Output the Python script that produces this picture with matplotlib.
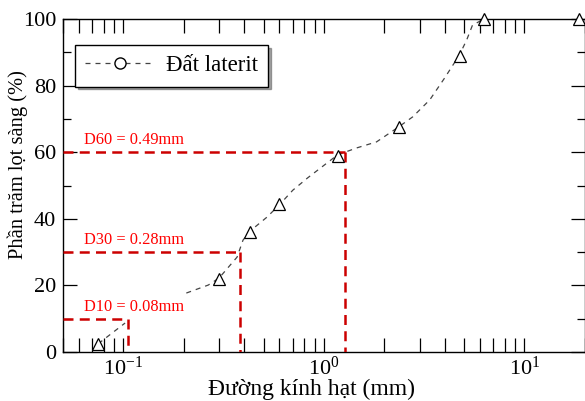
import numpy as np
import matplotlib.pyplot as plt
from matplotlib.lines import Line2D
from matplotlib.ticker import MultipleLocator

plt.rcParams['font.family'] = ['Liberation Serif', 'DejaVu Serif']
plt.rcParams['mathtext.fontset'] = 'custom'
plt.rcParams['mathtext.rm'] = 'Liberation Serif'

# sieve test points
size_mm = [0.075, 0.30, 0.43, 0.60, 1.17, 2.36, 4.75, 6.3, 18.8]
passing = [2.5, 22, 36, 44.5, 59, 67.5, 89, 100, 100]

# fitted curve (two pieces, gap between them)
curve1_x = [0.075, 0.102]
curve1_y = [2.5, 8.7]
curve2_x = [0.206, 0.265, 0.30, 0.369, 0.395, 0.428, 0.52, 0.604, 0.70, 0.83,
            1.17, 1.46, 1.83, 2.36, 2.77, 3.37, 4.0, 4.74, 5.15, 5.51, 6.3]
curve2_y = [17.7, 20.1, 22.2, 28.5, 33.6, 36.3, 40.5, 44.4, 48.6, 52.3,
            59.2, 61.3, 63.1, 67.6, 70.6, 75.7, 82.3, 89.2, 93.7, 98.2, 100]

# D-values: (label, percent, diameter where the guide line is drawn)
d_labels = ["D10 = 0.08mm", "D30 = 0.28mm", "D60 = 0.49mm"]
d_percent = [10, 30, 60]
d_x = [0.106, 0.38, 1.27]

fig = plt.figure(figsize=(5.85, 4.01), dpi=100)
ax = fig.add_axes([0.1077, 0.1222, 0.892, 0.8304])

ax.plot(curve1_x, curve1_y, ls=(0, (4, 4)), color='#444444', lw=0.9)
ax.plot(curve2_x, curve2_y, ls=(0, (4, 4)), color='#444444', lw=0.9)
ax.plot(size_mm, passing, ls='none', marker='^', markersize=9,
        markerfacecolor='white', markeredgecolor='black', markeredgewidth=0.9,
        zorder=5, clip_on=False)

for lab, p, dx in zip(d_labels, d_percent, d_x):
    ax.plot([0.05, dx], [p, p], ls=(0, (4, 2.5)), color='#cc0000', lw=1.8, zorder=3)
    ax.plot([dx, dx], [p, 0], ls=(0, (4, 2.5)), color='#cc0000', lw=1.8, zorder=3)
    ax.text(0.0637, p + 1.2, lab, color='red', fontsize=11.8, va='bottom', ha='left')

ax.set_xscale('log')
ax.set_xlim(0.05, 20)
ax.set_ylim(0, 100)
ax.yaxis.set_major_locator(MultipleLocator(20))
ax.yaxis.set_minor_locator(MultipleLocator(10))
ax.tick_params(which='both', direction='in', top=True, right=True, labelsize=16)
ax.tick_params(which='major', length=10, width=0.9)
ax.tick_params(which='minor', length=6, width=0.9)
ax.tick_params(axis='x', which='both', length=10, pad=3)
ax.tick_params(axis='y', pad=5)
for s in ax.spines.values():
    s.set_linewidth(1.0)

ax.set_xlabel("Đường kính hạt (mm)", fontsize=17)
ax.set_ylabel("Phần trăm lọt sàng (%)", fontsize=14.8)
ax.xaxis.set_label_coords(0.476, -0.08)
ax.yaxis.set_label_coords(-0.067, 0.5616)

handle = Line2D([], [], ls=(0, (4, 4)), color='#444444', lw=0.9, marker='o',
                markersize=8, markerfacecolor='white', markeredgecolor='black')
leg = ax.legend([handle], ["Đất laterit"], loc='upper left',
                bbox_to_anchor=(0.023, 0.922), borderaxespad=0, fontsize=16.5,
                fancybox=False, shadow=True, handlelength=3.0, framealpha=1,
                borderpad=0.45, handletextpad=0.5)
leg.get_frame().set_edgecolor('black')
leg.get_frame().set_linewidth(1.0)

fig.savefig("out.png", dpi=100)
